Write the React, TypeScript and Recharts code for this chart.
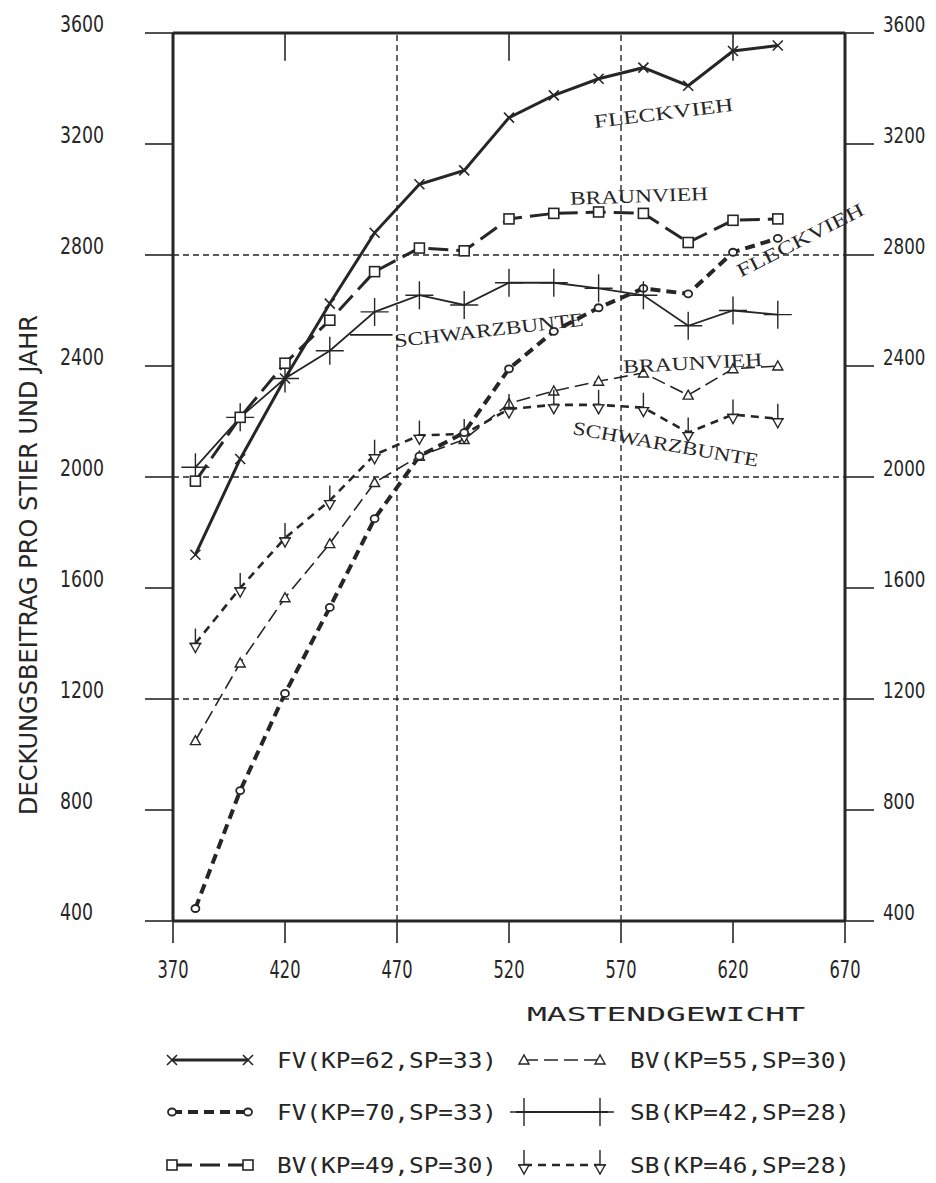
import React from "react";
import { LineChart, Line, XAxis, YAxis, ReferenceLine, ReferenceDot } from "recharts";

const INK = "#262626";
const COND = "'DejaVu Sans Condensed', 'DejaVu Sans', 'Liberation Sans Narrow', sans-serif";
const MONO = "'DejaVu Sans Mono', 'Liberation Mono', monospace";
const SERIF = "'Liberation Serif', 'DejaVu Serif', serif";

// Mastendgewicht (kg) and Deckungsbeitrag per series
const weights = [380, 400, 420, 440, 460, 480, 500, 520, 540, 560, 580, 600, 620, 640];
const fv62 = [1720, 2065, 2355, 2625, 2880, 3055, 3105, 3295, 3375, 3435, 3475, 3410, 3535, 3555];
const fv70 = [445, 870, 1220, 1530, 1850, 2075, 2160, 2390, 2525, 2610, 2680, 2660, 2810, 2860];
const bv49 = [1985, 2215, 2410, 2565, 2740, 2825, 2815, 2930, 2950, 2955, 2950, 2845, 2925, 2930];
const bv55 = [1050, 1330, 1565, 1760, 1980, 2075, 2135, 2265, 2310, 2345, 2375, 2295, 2390, 2400];
const sb42 = [2035, 2215, 2355, 2455, 2595, 2655, 2620, 2700, 2700, 2680, 2655, 2545, 2600, 2585];
const sb46 = [1400, 1600, 1780, 1915, 2080, 2150, 2155, 2245, 2260, 2260, 2250, 2160, 2225, 2210];

const xTicks = [370, 420, 470, 520, 570, 620, 670];
const topTicks = [420, 520, 620];
const yTicks = [400, 800, 1200, 1600, 2000, 2400, 2800, 3200, 3600];
const hGrid = [1200, 2000, 2800];
const vGrid = [470, 570];

const data = weights.map((w, i) => ({
  w,
  fv62: fv62[i],
  fv70: fv70[i],
  bv49: bv49[i],
  bv55: bv55[i],
  sb42: sb42[i],
  sb46: sb46[i],
}));

// marker shapes
type MP = { cx: number; cy: number };
const Cross = ({ cx, cy }: MP) => (
  <path d={`M${cx - 5},${cy - 5}L${cx + 5},${cy + 5}M${cx - 5},${cy + 5}L${cx + 5},${cy - 5}`} stroke={INK} strokeWidth={1.6} fill="none" />
);
const Square = ({ cx, cy }: MP) => (
  <rect x={cx - 5} y={cy - 5} width={10} height={10} fill="#fff" stroke={INK} strokeWidth={1.6} />
);
const Bead = ({ cx, cy }: MP) => (
  <ellipse cx={cx} cy={cy} rx={4} ry={3.5} fill="#fff" stroke={INK} strokeWidth={1.8} />
);
const TriUp = ({ cx, cy }: MP) => (
  <path d={`M${cx - 5},${cy + 4}L${cx + 5},${cy + 4}L${cx},${cy - 5}Z`} fill="#fff" stroke={INK} strokeWidth={1.4} />
);
const Plus = ({ cx, cy }: MP) => (
  <path d={`M${cx - 14},${cy}L${cx + 14},${cy}M${cx},${cy - 14}L${cx},${cy + 14}`} stroke={INK} strokeWidth={1.4} fill="none" />
);
const DropTri = ({ cx, cy }: MP) => (
  <g>
    <path d={`M${cx},${cy - 15}L${cx},${cy}M${cx - 6},${cy}L${cx + 6},${cy}`} stroke={INK} strokeWidth={1.4} fill="none" />
    <path d={`M${cx - 5},${cy}L${cx + 5},${cy}L${cx},${cy + 9}Z`} fill="#fff" stroke={INK} strokeWidth={1.4} />
  </g>
);

const series = [
  { key: "bv55", name: "BV(KP=55,SP=30)", width: 1.6, dash: "14 6", Marker: TriUp },
  { key: "sb46", name: "SB(KP=46,SP=28)", width: 2.6, dash: "8 6", Marker: DropTri },
  { key: "fv70", name: "FV(KP=70,SP=33)", width: 4, dash: "10 6", Marker: Bead },
  { key: "sb42", name: "SB(KP=42,SP=28)", width: 1.8, dash: undefined, Marker: Plus },
  { key: "bv49", name: "BV(KP=49,SP=30)", width: 3, dash: "20 8", Marker: Square },
  { key: "fv62", name: "FV(KP=62,SP=33)", width: 3, dash: undefined, Marker: Cross },
];

const legendRows = [
  ["fv62", "bv55"],
  ["fv70", "sb42"],
  ["bv49", "sb46"],
];

// in-plot breed labels: [text, x, y, rotation, length]
const notes: [string, number, number, number, number][] = [
  ["FLECKVIEH", 589, 3312, -7, 140],
  ["BRAUNVIEH", 578, 3013, -2, 138],
  ["FLECKVIEH", 650, 2854, -27, 140],
  ["SCHWARZBUNTE", 511, 2530, -6.5, 190],
  ["BRAUNVIEH", 602, 2411, -3, 139],
  ["SCHWARZBUNTE", 590, 2119, 10, 188],
];

const LeftTick = (p: any) => {
  const v = String(p.payload.value);
  return (
    <text x={p.x - 83} y={p.y - 1} fontFamily={COND} fontStretch="condensed" fontSize={23} fill={INK}
      textLength={v.length * 11} lengthAdjust="spacingAndGlyphs">{v}</text>
  );
};
const RightTick = (p: any) => {
  const v = String(p.payload.value);
  return (
    <text x={p.x + 7} y={p.y - 1} fontFamily={COND} fontStretch="condensed" fontSize={22} fill={INK}
      textLength={v.length * 10.6} lengthAdjust="spacingAndGlyphs">{v}</text>
  );
};
const BottomTick = (p: any) => {
  const v = String(p.payload.value);
  return (
    <text x={p.x} y={p.y + 33} textAnchor="middle" fontFamily={COND} fontStretch="condensed" fontSize={24} fill={INK}
      textLength={31} lengthAdjust="spacingAndGlyphs">{v}</text>
  );
};

function LegendSymbol({ s, x1, x2, y }: { s: (typeof series)[number]; x1: number; x2: number; y: number }) {
  const M = s.Marker;
  const ext = s.key === "sb42" ? 8 : 0;
  return (
    <g>
      <line x1={x1 - ext} x2={x2 + ext} y1={y} y2={y} stroke={INK} strokeWidth={s.width}
        strokeDasharray={s.dash} />
      <M cx={x1} cy={y} />
      <M cx={x2} cy={y} />
    </g>
  );
}

function Overlay() {
  const cols = [
    { x1: 172, x2: 248, tx: 277 },
    { x1: 524, x2: 600, tx: 630 },
  ];
  const rowsY = [1060, 1112, 1165];
  return (
    <svg width={936} height={1183} style={{ position: "absolute", left: 0, top: 0, pointerEvents: "none" }}>
      <text transform="translate(37,565) rotate(-90)" textAnchor="middle" fontFamily={COND} fontStretch="condensed"
        fontSize={24} fill={INK} textLength={500} lengthAdjust="spacingAndGlyphs">
        DECKUNGSBEITRAG PRO STIER UND JAHR
      </text>
      <text x={527} y={1021} fontFamily={MONO} fontSize={19} fill={INK} textLength={278}
        lengthAdjust="spacingAndGlyphs">MASTENDGEWICHT</text>
      {legendRows.map((row, r) =>
        row.map((key, c) => {
          const s = series.find((d) => d.key === key)!;
          const col = cols[c];
          const y = rowsY[r];
          return (
            <g key={key}>
              <LegendSymbol s={s} x1={col.x1} x2={col.x2} y={y} />
              <text x={col.tx} y={y + 8} fontFamily={MONO} fontSize={22} fill={INK} textLength={220}
                lengthAdjust="spacingAndGlyphs">{s.name}</text>
            </g>
          );
        })
      )}
    </svg>
  );
}

export default function App() {
  return (
    <div style={{ position: "relative", width: 936, height: 1183, background: "#fff" }}>
      <style>{"body{margin:0}"}</style>
      <LineChart width={936} height={1183} data={data} margin={{ top: 0, right: 0, bottom: 0, left: 0 }}>
        <XAxis dataKey="w" type="number" domain={[370, 670]} ticks={xTicks} height={262}
          tickSize={22} tick={<BottomTick />} axisLine={{ stroke: INK, strokeWidth: 3 }}
          tickLine={{ stroke: INK, strokeWidth: 1.6 }} allowDataOverflow />
        <XAxis xAxisId="top" orientation="top" dataKey="w" type="number" domain={[370, 670]} ticks={topTicks}
          height={33} tick={false} tickLine={false} axisLine={{ stroke: INK, strokeWidth: 3 }} />
        <YAxis type="number" domain={[400, 3600]} ticks={yTicks} width={173} tickSize={28}
          tick={<LeftTick />} axisLine={{ stroke: INK, strokeWidth: 3 }}
          tickLine={{ stroke: INK, strokeWidth: 1.6 }} allowDataOverflow />
        <YAxis yAxisId="right" orientation="right" type="number" domain={[400, 3600]} ticks={yTicks}
          width={91} tickSize={29} tick={<RightTick />} axisLine={{ stroke: INK, strokeWidth: 3 }}
          tickLine={{ stroke: INK, strokeWidth: 1.6 }} />

        {hGrid.map((v) => (
          <ReferenceLine key={`h${v}`} y={v} stroke={INK} strokeWidth={1.4} strokeDasharray="6 4" />
        ))}
        {vGrid.map((v) => (
          <ReferenceLine key={`v${v}`} x={v} stroke={INK} strokeWidth={1.4} strokeDasharray="6 4" />
        ))}
        {/* inward ticks on the top frame */}
        {topTicks.map((v) => (
          <ReferenceLine key={`t${v}`} segment={[{ x: v, y: 3600 }, { x: v, y: 3500 }]} stroke={INK} strokeWidth={1.6} />
        ))}

        {/* carrier so the right-hand axis and top axis get a scale */}
        <Line yAxisId="right" xAxisId="top" dataKey="fv62" stroke="none" dot={false} activeDot={false}
          isAnimationActive={false} legendType="none" />

        {series.map((s) => (
          <Line key={s.key} dataKey={s.key} type="linear" stroke={INK} strokeWidth={s.width}
            strokeDasharray={s.dash} isAnimationActive={false}
            dot={(p: any) => <s.Marker key={`${s.key}${p.index}`} cx={p.cx} cy={p.cy} />}
            activeDot={false} />
        ))}

        <ReferenceLine segment={[{ x: 449, y: 2512 }, { x: 468, y: 2512 }]} stroke={INK} strokeWidth={1.6} />
        {notes.map(([t, x, y, rot, len], i) => (
          <ReferenceDot key={`n${i}`} x={x} y={y} r={0}
            shape={(p: any) => (
              <text transform={`translate(${p.cx},${p.cy}) rotate(${rot})`} textAnchor="middle"
                dominantBaseline="central" fontFamily={SERIF} fontSize={19} fill={INK}
                textLength={len} lengthAdjust="spacingAndGlyphs">{t}</text>
            )} />
        ))}
      </LineChart>
      <Overlay />
    </div>
  );
}
